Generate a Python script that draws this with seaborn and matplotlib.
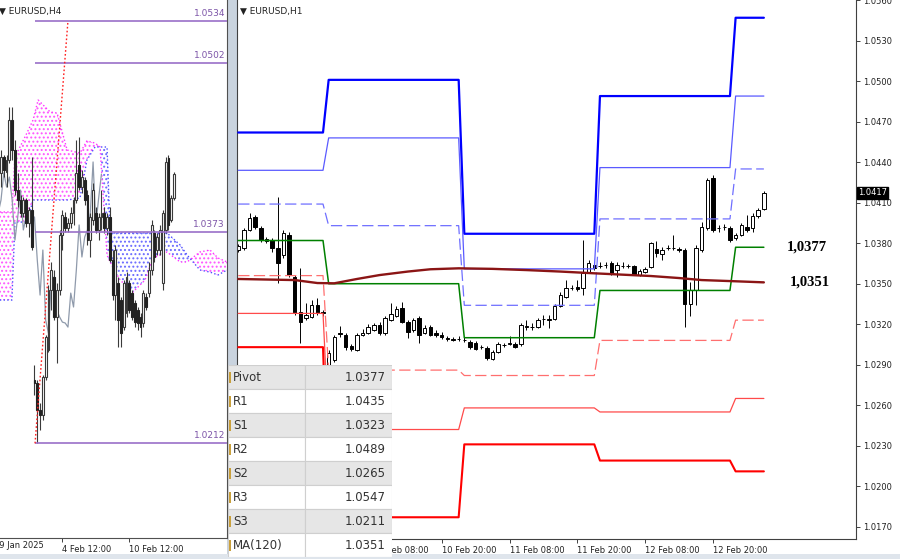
import numpy as np
import pandas as pd
import matplotlib
matplotlib.use('Agg')
import matplotlib.pyplot as plt
import seaborn as sns
from matplotlib.patches import Rectangle
from matplotlib.transforms import blended_transform_factory

# ---------------- H1 candles (right panel), bar 0 = 7 Feb 08:00 ----------------
h1_open = [1.03750, 1.03764, 1.03898, 1.03994, 1.03913, 1.03816, 1.03824, 1.03764, 1.03713, 1.03861,
           1.03550, 1.03290, 1.03246, 1.03253, 1.03342, 1.03290, 1.02898, 1.02935, 1.03135, 1.03120,
           1.03038, 1.03009, 1.03120, 1.03135, 1.03157, 1.03194, 1.03135, 1.03231, 1.03261, 1.03320,
           1.03216, 1.03157, 1.03246, 1.03135, 1.03179, 1.03135, 1.03120, 1.03098, 1.03090, 1.03090,
           1.03083, 1.03068, 1.03061, 1.03031, 1.03024, 1.02942, 1.02994, 1.03046, 1.03053, 1.03053,
           1.03053, 1.03179, 1.03179, 1.03179, 1.03238, 1.03231, 1.03238, 1.03335, 1.03401, 1.03468,
           1.03476, 1.03468, 1.03587, 1.03638, 1.03631, 1.03638, 1.03653, 1.03601, 1.03631, 1.03631,
           1.03631, 1.03564, 1.03587, 1.03624, 1.03757, 1.03720, 1.03764, 1.03764, 1.03757, 1.03750,
           1.03350, 1.03453, 1.03750, 1.03913, 1.04283, 1.03913, 1.03920, 1.03913, 1.03839, 1.03861,
           1.03920, 1.03913, 1.04001, 1.04053]
h1_high = [1.03794, 1.03913, 1.04024, 1.04009, 1.03927, 1.03846, 1.03839, 1.04142, 1.03898, 1.03883,
           1.03564, 1.03616, 1.03357, 1.03379, 1.03394, 1.03305, 1.03009, 1.03120, 1.03187, 1.03135,
           1.03053, 1.03135, 1.03164, 1.03201, 1.03209, 1.03216, 1.03261, 1.03357, 1.03335, 1.03364,
           1.03231, 1.03246, 1.03261, 1.03194, 1.03194, 1.03157, 1.03142, 1.03112, 1.03105, 1.03112,
           1.03105, 1.03083, 1.03075, 1.03046, 1.03038, 1.03009, 1.03068, 1.03061, 1.03112, 1.03068,
           1.03209, 1.03231, 1.03209, 1.03246, 1.03268, 1.03268, 1.03350, 1.03439, 1.03527, 1.03490,
           1.03527, 1.03824, 1.03675, 1.03653, 1.03661, 1.03661, 1.03668, 1.03661, 1.03661, 1.03646,
           1.03638, 1.03609, 1.03624, 1.03809, 1.03816, 1.03772, 1.03787, 1.03861, 1.03772, 1.03764,
           1.03513, 1.03787, 1.03957, 1.04283, 1.04305, 1.03935, 1.03942, 1.03927, 1.03876, 1.03950,
           1.04009, 1.04024, 1.04061, 1.04187]
h1_low = [1.03735, 1.03750, 1.03890, 1.03905, 1.03809, 1.03801, 1.03735, 1.03505, 1.03690, 1.03550,
          1.03268, 1.03061, 1.03231, 1.03246, 1.03268, 1.03261, 1.02883, 1.02920, 1.03105, 1.03009,
          1.03001, 1.03001, 1.03112, 1.03127, 1.03149, 1.03120, 1.03120, 1.03224, 1.03253, 1.03209,
          1.03098, 1.03142, 1.03061, 1.03127, 1.03112, 1.03105, 1.03090, 1.03075, 1.03075, 1.03075,
          1.03068, 1.03016, 1.03009, 1.03016, 1.02935, 1.02935, 1.02987, 1.03031, 1.03046, 1.03024,
          1.03038, 1.03157, 1.03157, 1.03172, 1.03194, 1.03172, 1.03231, 1.03327, 1.03394, 1.03453,
          1.03446, 1.03416, 1.03579, 1.03601, 1.03616, 1.03616, 1.03564, 1.03550, 1.03616, 1.03616,
          1.03564, 1.03557, 1.03579, 1.03616, 1.03698, 1.03675, 1.03750, 1.03750, 1.03735, 1.03179,
          1.03261, 1.03342, 1.03735, 1.03898, 1.03883, 1.03883, 1.03898, 1.03809, 1.03824, 1.03853,
          1.03883, 1.03883, 1.03987, 1.04046]
h1_close = [1.03779, 1.03898, 1.03987, 1.03920, 1.03824, 1.03831, 1.03764, 1.03653, 1.03876, 1.03564,
            1.03283, 1.03216, 1.03268, 1.03342, 1.03283, 1.03283, 1.02987, 1.03105, 1.03127, 1.03031,
            1.03016, 1.03120, 1.03135, 1.03179, 1.03194, 1.03135, 1.03246, 1.03275, 1.03313, 1.03216,
            1.03142, 1.03231, 1.03120, 1.03172, 1.03120, 1.03120, 1.03105, 1.03090, 1.03083, 1.03090,
            1.03083, 1.03031, 1.03016, 1.03031, 1.02950, 1.02994, 1.03053, 1.03046, 1.03061, 1.03031,
            1.03194, 1.03187, 1.03179, 1.03231, 1.03238, 1.03238, 1.03335, 1.03416, 1.03468, 1.03468,
            1.03461, 1.03579, 1.03653, 1.03616, 1.03631, 1.03638, 1.03579, 1.03638, 1.03631, 1.03631,
            1.03572, 1.03594, 1.03609, 1.03801, 1.03727, 1.03750, 1.03764, 1.03764, 1.03750, 1.03350,
            1.03453, 1.03764, 1.03920, 1.04268, 1.03898, 1.03913, 1.03920, 1.03824, 1.03861, 1.03935,
            1.03898, 1.04001, 1.04046, 1.04172]

# daily pivot levels (first bar of each day)
day_start = [0, 16, 40, 64, 88]
r3_day = [1.0462, 1.0501, 1.0387, 1.0489, 1.0547]
r2_day = [1.0434, 1.0458, 1.0361, 1.0436, 1.0489]
r1_day = [1.0409, 1.0393, 1.0334, 1.0398, 1.0435]
pivot_day = [1.0382, 1.0350, 1.0310, 1.0345, 1.0377]
s1_day = [1.0356, 1.0286, 1.0282, 1.0308, 1.0323]
s2_day = [1.0328, 1.0242, 1.0258, 1.0255, 1.0265]
s3_day = [1.0303, 1.0177, 1.0231, 1.0219, 1.0211]

# MA(120) read at a few bars
ma_bars = [0, 10, 14, 17, 21, 25, 30, 34, 39, 45, 51, 57, 63, 68, 73, 78, 82, 88, 93]
ma_vals = [1.03535, 1.03527, 1.03505, 1.03503, 1.03535, 1.03564, 1.03590, 1.03607, 1.03614, 1.03610,
           1.03601, 1.03590, 1.03577, 1.03567, 1.03557, 1.03542, 1.03527, 1.03518, 1.03510]

h1_tick_bars = [24, 36, 48, 60, 72, 84]
h1_tick_labels = ['10 Feb 08:00', '10 Feb 20:00', '11 Feb 08:00', '11 Feb 20:00', '12 Feb 08:00', '12 Feb 20:00']

table_names = ['Pivot', 'R1', 'S1', 'R2', 'S2', 'R3', 'S3', 'MA(120)']
table_values = ['1.0377', '1.0435', '1.0323', '1.0489', '1.0265', '1.0547', '1.0211', '1.0351']

# ---------------- H4 candles (left panel), bar 0 = 29 Jan 20:00 ----------------
h4_open = [1.04180, 1.04302, 1.04187, 1.04279, 1.04584, 1.04355, 1.04050, 1.03974, 1.03875, 1.03974,
           1.03799, 1.03898, 1.02602, 1.02580, 1.02374, 1.02335, 1.02625, 1.02831, 1.03288, 1.03387,
           1.03083, 1.03288, 1.03707, 1.03845, 1.03761, 1.03799, 1.03875, 1.03974, 1.04241, 1.04073,
           1.04126, 1.04012, 1.03669, 1.03822, 1.03875, 1.03746, 1.03845, 1.03875, 1.03761, 1.03845,
           1.03517, 1.03250, 1.03342, 1.03212, 1.03006, 1.03113, 1.03342, 1.03265, 1.03189, 1.03136,
           1.03083, 1.03037, 1.03235, 1.03265, 1.03441, 1.03723, 1.03593, 1.03593, 1.03342, 1.03746,
           1.04294, 1.03822, 1.03989]
h4_high = [1.04355, 1.04317, 1.04317, 1.04683, 1.04683, 1.04431, 1.04180, 1.04012, 1.03997, 1.03989,
           1.03921, 1.04302, 1.02717, 1.02602, 1.02427, 1.02641, 1.02945, 1.03326, 1.03502, 1.03441,
           1.03342, 1.03746, 1.03898, 1.03883, 1.03837, 1.03921, 1.03997, 1.04431, 1.04454, 1.04203,
           1.04149, 1.04050, 1.03875, 1.04104, 1.03921, 1.03875, 1.04050, 1.03921, 1.03875, 1.03921,
           1.03593, 1.03631, 1.03387, 1.03235, 1.03364, 1.03425, 1.03364, 1.03288, 1.03212, 1.03159,
           1.03113, 1.03288, 1.03265, 1.03502, 1.03822, 1.03746, 1.03723, 1.03784, 1.03898, 1.04302,
           1.04317, 1.04012, 1.04187]
h4_low = [1.04073, 1.04149, 1.04073, 1.04256, 1.04279, 1.04012, 1.03921, 1.03845, 1.03845, 1.03768,
          1.03692, 1.03593, 1.02488, 1.02122, 1.02221, 1.02297, 1.02602, 1.02816, 1.03136, 1.03060,
          1.02732, 1.03250, 1.03593, 1.03730, 1.03730, 1.03761, 1.03784, 1.03951, 1.04050, 1.04027,
          1.03936, 1.03631, 1.03540, 1.03784, 1.03723, 1.03669, 1.03746, 1.03723, 1.03707, 1.03502,
          1.03212, 1.03060, 1.02854, 1.02854, 1.02983, 1.03083, 1.03113, 1.03060, 1.03006, 1.02983,
          1.02930, 1.03006, 1.03136, 1.03235, 1.03403, 1.03502, 1.03555, 1.03555, 1.03288, 1.03723,
          1.03746, 1.03806, 1.03974]
h4_close = [1.04302, 1.04203, 1.04279, 1.04584, 1.04355, 1.04050, 1.03974, 1.03875, 1.03974, 1.03799,
            1.03898, 1.03616, 1.02580, 1.02374, 1.02335, 1.02625, 1.02930, 1.03288, 1.03441, 1.03083,
            1.03288, 1.03707, 1.03860, 1.03761, 1.03799, 1.03875, 1.03974, 1.04180, 1.04073, 1.04149,
            1.03974, 1.03669, 1.03845, 1.04050, 1.03746, 1.03845, 1.03875, 1.03761, 1.03845, 1.03517,
            1.03250, 1.03593, 1.03060, 1.02961, 1.03342, 1.03387, 1.03136, 1.03083, 1.03044, 1.03037,
            1.03006, 1.03265, 1.03159, 1.03441, 1.03784, 1.03540, 1.03692, 1.03746, 1.03875, 1.04264,
            1.03784, 1.03989, 1.04172]

# Ichimoku cloud spans read at breakpoints (H4 bar index)
cloud_bars = [-0.4, 3.9, 5.0, 9.3, 11.5, 13.3, 17.6, 20.1, 23.7, 28.3, 30.8, 33.7, 35.5,
              38.0, 39.1, 42.7, 47.3, 51.6, 54.5, 59.5, 64.2, 66.7, 71.3, 74.9, 77.8, 81.0]
span_b = [1.03883, 1.03883, 1.04302, 1.04485, 1.04584, 1.04736, 1.04645, 1.04637, 1.04355, 1.04332,
          1.04424, 1.04408, 1.04378, 1.03555, 1.03502, 1.03364, 1.03273, 1.03364, 1.03532, 1.03578,
          1.03502, 1.03502, 1.03578, 1.03593, 1.03532, 1.03502]
span_a = [1.03212, 1.03212, 1.03806, 1.03806, 1.03974, 1.03974, 1.03974, 1.03974, 1.03974, 1.03989,
          1.04279, 1.04378, 1.04378, 1.04378, 1.03723, 1.03723, 1.03723, 1.03723, 1.03723, 1.03723,
          1.03631, 1.03555, 1.03441, 1.03425, 1.03403, 1.03441]
chikou_shift = 26

fib_levels = [1.0534, 1.0502, 1.0373, 1.0212]
fib_start_bar = 12.2
trend_bars = [12.2, 24.0]
trend_prices = [1.0212, 1.0534]

h4_tick_bars = [22, 46]
h4_tick_labels = ['4 Feb 12:00', '10 Feb 12:00']

# ---------------- style ----------------
sns.set_theme(style='white')
plt.rcParams['font.family'] = ['DejaVu Sans']
plt.rcParams['hatch.linewidth'] = 0.9


def draw_candles(ax, o, h, l, c, width, wick_color, lw, bear_color='black'):
    o, h, l, c = map(np.asarray, (o, h, l, c))
    x = np.arange(len(o))
    ax.vlines(x, l, h, color=wick_color, lw=lw, zorder=2)
    bull = c >= o
    bottom = np.minimum(o, c)
    height = np.maximum(np.abs(c - o), 0.000012)
    ax.bar(x[bull], height[bull], width, bottom[bull], facecolor='white',
           edgecolor=wick_color, linewidth=lw, zorder=2.5)
    ax.bar(x[~bull], height[~bull], width, bottom[~bull], facecolor=bear_color,
           edgecolor=bear_color, linewidth=lw, zorder=2.5)


W, H = 900, 559
fig = plt.figure(figsize=(9, 5.59), dpi=100)
fig.patch.set_facecolor('white')

# splitter between the two charts and window bottom band (behind the axes)
fig.patches.append(Rectangle((227 / W, 0), 9.7 / W, 1, transform=fig.transFigure,
                             facecolor='#c9d3de', edgecolor='none', zorder=-5))
fig.patches.append(Rectangle((0, 0), 1, 5 / H, transform=fig.transFigure,
                             facecolor='#dfe5ec', edgecolor='none', zorder=-5))

# ================= left panel: H4 =================
ax_l = fig.add_axes([0, (H - 538) / H, 227 / W, 538 / H])
ax_l.set_xlim(-0.36, 81.0)
ax_l.set_ylim(1.01399, 1.05498)

ca = np.array(span_a)
cb = np.array(span_b)
ax_l.fill_between(cloud_bars, ca, cb, where=cb >= ca, interpolate=True, facecolor='none',
                  edgecolor='#ff55ff', hatch='....', linewidth=0, zorder=1)
ax_l.fill_between(cloud_bars, ca, cb, where=ca > cb, interpolate=True, facecolor='none',
                  edgecolor='#6a6aff', hatch='....', linewidth=0, zorder=1)
sns.lineplot(x=cloud_bars, y=span_b, ax=ax_l, color='#ff33ff', lw=1.0, linestyle=':', zorder=1.5)
sns.lineplot(x=cloud_bars, y=span_a, ax=ax_l, color='#4d4dff', lw=1.0, linestyle=':', zorder=1.5)

chikou_x = np.arange(len(h4_close)) - chikou_shift
sns.lineplot(x=chikou_x, y=h4_close, ax=ax_l, color='#8f9aab', lw=0.9, zorder=1.8)

draw_candles(ax_l, h4_open, h4_high, h4_low, h4_close, 0.65, '#3a3a3a', 0.8, bear_color='#222222')

for lv in fib_levels:
    ax_l.hlines(lv, fib_start_bar, 81.0, color='#9a70c8', lw=1.2, zorder=3)
    ax_l.text(80.3, lv + 0.00022, f'{lv:.4f}', ha='right', va='bottom', fontsize=6.5,
              color='#7d55a8', zorder=4)
sns.lineplot(x=trend_bars, y=trend_prices, ax=ax_l, color='#ff2020', lw=1.0,
             linestyle=(0, (1.2, 1.6)), zorder=3)

ax_l.set_yticks([])
ax_l.set_xticks(h4_tick_bars)
ax_l.set_xticklabels(h4_tick_labels)
for lbl in ax_l.get_xticklabels():
    lbl.set_ha('left')
ax_l.tick_params(axis='x', direction='out', length=3, width=0.6, labelsize=6, pad=2,
                 colors='#222222', bottom=True)
ax_l.text(-2.6, -0.006, '29 Jan 2025', transform=blended_transform_factory(ax_l.transData, ax_l.transAxes),
          ha='left', va='top', fontsize=6, color='#222222', clip_on=False)
for s in ['top', 'left']:
    ax_l.spines[s].set_visible(False)
for s in ['right', 'bottom']:
    ax_l.spines[s].set_color('#505050')
    ax_l.spines[s].set_linewidth(0.8)
ax_l.set_xlabel('')
ax_l.set_ylabel('')
ax_l.text(-0.006, 0.988, '▼ EURUSD,H4', transform=ax_l.transAxes, ha='left', va='top',
          fontsize=6.5, color='#222222')

# ================= right panel: H1 =================
ax_r = fig.add_axes([236.7 / W, (H - 539) / H, (856 - 236.7) / W, 539 / H])
ax_r.set_xlim(-0.27, 109.3)
ax_r.set_ylim(1.01609, 1.056015)

n_bars = len(h1_close)
bars = np.arange(n_bars)
day_len = np.diff(day_start + [n_bars])


def per_bar(vals):
    return np.repeat(vals, day_len)


draw_candles(ax_r, h1_open, h1_high, h1_low, h1_close, 0.62, 'black', 0.7)

dash = (0, (9, 3.5))
levels = [
    (r3_day, '#0000ff', 1.6, '-'),
    (r2_day, '#5a5aff', 0.9, '-'),
    (r1_day, '#6f6fff', 0.9, dash),
    (pivot_day, '#008000', 1.1, '-'),
    (s1_day, '#ff6f6f', 0.9, dash),
    (s2_day, '#ff4a4a', 0.9, '-'),
    (s3_day, '#ff0000', 1.5, '-'),
]
for vals, col, lw, ls in levels:
    sns.lineplot(x=bars, y=per_bar(vals), ax=ax_r, color=col, lw=lw, linestyle=ls, zorder=3)
sns.lineplot(x=ma_bars, y=ma_vals, ax=ax_r, color='#8b1515', lw=1.7, zorder=3.2)

ax_r.text(97.1, pivot_day[-1], '1,0377', ha='left', va='center', fontsize=10.5,
          family=['Liberation Serif', 'DejaVu Serif'], fontweight='bold', color='black')
ax_r.text(97.6, ma_vals[-1], '1,0351', ha='left', va='center', fontsize=10.5,
          family=['Liberation Serif', 'DejaVu Serif'], fontweight='bold', color='black')

yt = np.round(np.arange(1.0170, 1.05601, 0.003), 4)
ax_r.set_yticks(yt)
ax_r.set_yticklabels([f'{v:.4f}' for v in yt])
ax_r.yaxis.tick_right()
ax_r.tick_params(axis='y', direction='out', length=3, width=0.6, labelsize=6, pad=2,
                 colors='#222222', right=True, left=False)
ax_r.set_xticks(h1_tick_bars)
ax_r.set_xticklabels(h1_tick_labels)
for lbl in ax_r.get_xticklabels():
    lbl.set_ha('left')
ax_r.tick_params(axis='x', direction='out', length=3, width=0.6, labelsize=6, pad=2,
                 colors='#222222', bottom=True)
ax_r.spines['top'].set_visible(False)
for s in ['left', 'right', 'bottom']:
    ax_r.spines[s].set_color('#404040')
    ax_r.spines[s].set_linewidth(0.8)
ax_r.set_xlabel('')
ax_r.set_ylabel('')

ax_r.text(1.003, h1_close[-1], f'{h1_close[-1]:.4f}',
          transform=blended_transform_factory(ax_r.transAxes, ax_r.transData),
          ha='left', va='center', fontsize=6, color='white', clip_on=False,
          bbox=dict(boxstyle='square,pad=0.15', facecolor='black', edgecolor='black'))
ax_r.text(0.006, 0.988, '▼ EURUSD,H1', transform=ax_r.transAxes, ha='left', va='top',
          fontsize=6.5, color='#222222')

# ================= level table =================
row_h = 24
ax_t = fig.add_axes([228 / W, (H - 365 - row_h * len(table_names)) / H, 164 / W,
                     row_h * len(table_names) / H])
ax_t.set_xlim(0, 164)
ax_t.set_ylim(row_h * len(table_names), 0)
ax_t.axis('off')
for i, (name, val) in enumerate(zip(table_names, table_values)):
    y0 = i * row_h
    bg = '#e6e6e6' if i % 2 == 0 else '#ffffff'
    ax_t.add_patch(Rectangle((0, y0), 77, row_h, facecolor=bg, edgecolor='#cfcfcf', lw=0.8, zorder=1))
    ax_t.add_patch(Rectangle((77, y0), 87, row_h, facecolor=bg, edgecolor='#cfcfcf', lw=0.8, zorder=1))
    ax_t.add_patch(Rectangle((0.5, y0 + 7), 2.5, 11, facecolor='#c9a03c', edgecolor='none', zorder=2))
    ax_t.text(5, y0 + row_h / 2 + 0.5, name, ha='left', va='center', fontsize=8.5,
              color='#333333', zorder=3)
    ax_t.text(158, y0 + row_h / 2 + 0.5, val, ha='right', va='center', fontsize=8.5,
              color='#333333', zorder=3)

fig.savefig('out.png', dpi=100)
